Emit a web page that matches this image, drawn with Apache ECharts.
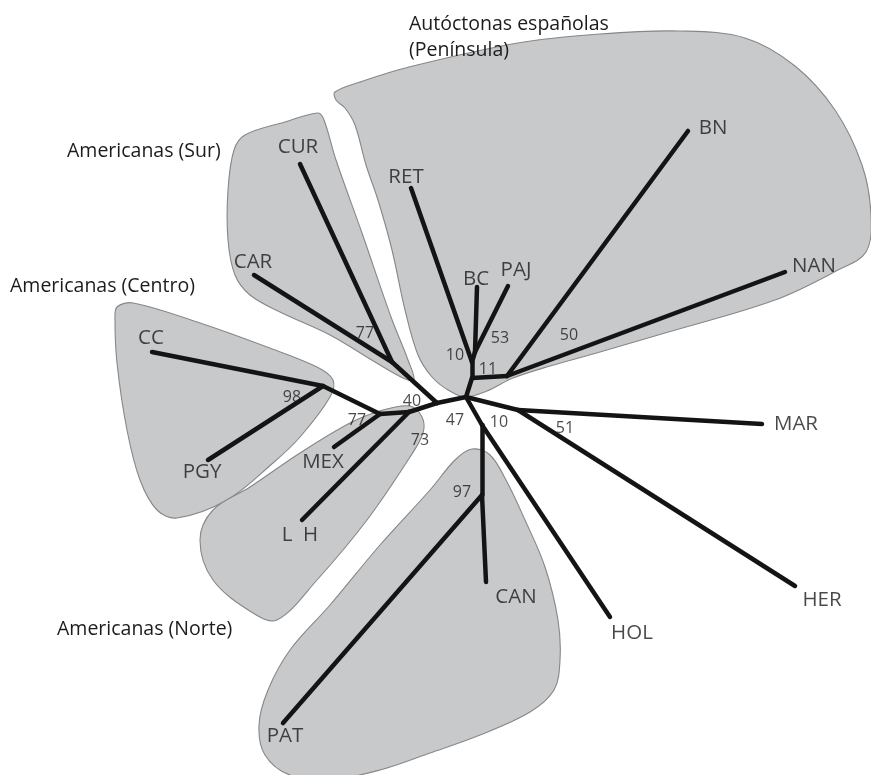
<!DOCTYPE html>
<html>
<head>
<meta charset="utf-8">
<title>Árbol de razas</title>
<script src="https://cdn.jsdelivr.net/npm/echarts@6/dist/echarts.min.js"></script>
<style>
  html, body { margin: 0; padding: 0; background: #ffffff; }
  #chart { width: 871px; height: 775px; }
</style>
</head>
<body>
<div id="chart"></div>
<script>
// Terminal taxa and their positions in the unrooted tree layout
const leafNames = ['CUR', 'CAR', 'CC', 'PGY', 'MEX', 'L  H', 'PAT', 'CAN', 'HOL', 'HER', 'MAR', 'NAN', 'BN', 'PAJ', 'BC', 'RET'];
const leafX = [300, 254, 152, 208, 334, 302, 283, 486, 610, 795, 762, 785, 688, 508, 477, 411];
const leafY = [164, 275, 352, 460, 447, 520, 723, 582, 617, 586, 424, 272, 131, 286, 287, 188];

// Internal nodes of the tree
const innerNames = ['H0', 'N40', 'Jsur', 'N73', 'N77', 'N98', 'N11', 'N50', 'N10', 'N53', 'Nr', 'N10b', 'N97'];
const innerX = [466, 437, 392, 409, 380, 323, 472, 507, 472, 475, 518, 482, 482];
const innerY = [397, 403, 362, 412, 414, 386, 378, 376, 362, 352, 410, 425, 495];

// Branches (parent, child)
const branches = [
  ['H0', 'N40'], ['N40', 'Jsur'], ['Jsur', 'CUR'], ['Jsur', 'CAR'],
  ['N40', 'N73'], ['N73', 'L  H'], ['N73', 'N77'], ['N77', 'MEX'], ['N77', 'N98'],
  ['N98', 'CC'], ['N98', 'PGY'],
  ['H0', 'N11'], ['N11', 'N50'], ['N50', 'BN'], ['N50', 'NAN'],
  ['N11', 'N10'], ['N10', 'RET'], ['N10', 'N53'], ['N53', 'BC'], ['N53', 'PAJ'],
  ['H0', 'Nr'], ['Nr', 'MAR'], ['Nr', 'HER'],
  ['H0', 'N10b'], ['N10b', 'HOL'], ['N10b', 'N97'], ['N97', 'CAN'], ['N97', 'PAT']
];

// Bootstrap support at internal nodes
const bootstrapNodes = ['Jsur', 'N40', 'N98', 'N77', 'N73', 'H0', 'N10b', 'Nr', 'N97', 'N10', 'N53', 'N11', 'N50'];
const bootstrapValues = [77, 40, 98, 77, 73, 47, 10, 51, 97, 10, 53, 11, 50];

// Breed groups and the outline of each shaded region
const groupNames = ['Autóctonas españolas\n(Península)', 'Americanas (Sur)', 'Americanas (Centro)', 'Americanas (Norte)'];
const groupOutlines = [
  [[335,92],[360,82],[409,67],[518,43],[600,34],[680,31],[745,38],[795,66],[835,110],[862,165],[871,215],[866,252],[838,270],[775,300],[665,333],[600,352],[550,366],[513,378],[487,391],[465,397],[448,390],[432,377],[418,355],[405,310],[392,250],[378,200],[366,165],[355,125],[345,108],[336,100]],
  [[245,135],[285,122],[318,113],[324,120],[336,160],[362,233],[391,317],[408,360],[414,380],[403,378],[375,362],[330,335],[280,312],[250,295],[235,275],[228,240],[228,190],[234,150]],
  [[117,307],[133,303],[200,323],[267,347],[317,367],[333,380],[330,397],[300,437],[273,463],[227,500],[177,518],[157,510],[140,480],[127,430],[117,363],[115,320]],
  [[383,410],[410,406],[422,417],[423,433],[410,457],[367,520],[317,580],[277,620],[253,613],[213,580],[200,540],[213,510],[250,487],[300,453],[350,423]],
  [[472,449],[490,455],[506,480],[525,520],[545,567],[558,620],[560,660],[554,690],[530,712],[480,735],[430,753],[380,770],[334,779],[290,775],[265,755],[259,725],[268,690],[290,650],[330,605],[380,545],[430,490],[455,460]]
];

// Text placement (pixel offsets from the node the text belongs to)
const leafLabelOffset = {
  'CUR': [-2, -17], 'CAR': [-1, -13], 'CC': [-1, -14], 'PGY': [-6, 12], 'MEX': [-11, 15],
  'L  H': [-2, 15], 'PAT': [2, 13], 'CAN': [30, 15], 'HOL': [22, 16], 'HER': [27, 14],
  'MAR': [34, 0], 'NAN': [29, -6], 'BN': [25, -3], 'PAJ': [8, -16], 'BC': [-1, -8], 'RET': [-5, -11]
};
const bootstrapOffset = {
  'Jsur': [-27, -29], 'N40': [-25, -2], 'N98': [-31, 11], 'N77': [-23, 6], 'N73': [11, 28],
  'H0': [-11, 23], 'N10b': [17, -3], 'Nr': [47, 18], 'N97': [-20, -3], 'N10': [-17, -7],
  'N53': [25, -14], 'N11': [16, -9], 'N50': [62, -41]
};

const FONT = '"Open Sans", "DejaVu Sans", sans-serif';
const TEXT = '#1c1c1c';

const pos = {};
leafNames.forEach((n, i) => { pos[n] = [leafX[i], leafY[i]]; });
innerNames.forEach((n, i) => { pos[n] = [innerX[i], innerY[i]]; });

const chart = echarts.init(document.getElementById('chart'), null, { renderer: 'canvas' });

const option = {
  backgroundColor: '#ffffff',
  animation: false,
  grid: { left: 0, right: 0, top: 0, bottom: 0, containLabel: false },
  xAxis: { type: 'value', min: 0, max: 871, show: false },
  yAxis: { type: 'value', min: 0, max: 775, inverse: true, show: false },
  series: [
    {
      // shaded breed-group regions
      type: 'custom',
      coordinateSystem: 'cartesian2d',
      silent: true,
      z: 1,
      data: groupOutlines.map((o, i) => [o[0][0], o[0][1], i]),
      renderItem: function (params, api) {
        const idx = api.value(2);
        const pts = groupOutlines[idx].map(p => api.coord(p));
        return {
          type: 'polygon',
          shape: { points: pts, smooth: 0.35 },
          style: { fill: '#c8c9cb', stroke: '#878787', lineWidth: 1.1 }
        };
      }
    },
    {
      // tree branches
      type: 'lines',
      coordinateSystem: 'cartesian2d',
      silent: true,
      z: 3,
      polyline: false,
      lineStyle: { color: '#141414', width: 4.5, opacity: 1, cap: 'round' },
      data: branches.map(([a, b]) => ({ coords: [pos[a], pos[b]] }))
    },
    {
      // taxon names
      type: 'scatter',
      silent: true,
      z: 4,
      symbolSize: 1,
      itemStyle: { color: 'rgba(0,0,0,0)' },
      data: leafNames.map((n, i) => ({
        value: [leafX[i], leafY[i]],
        name: n,
        label: { offset: leafLabelOffset[n] }
      })),
      label: {
        show: true, position: 'inside', formatter: p => p.name,
        color: TEXT, fontFamily: FONT, fontSize: 20.5
      }
    },
    {
      // bootstrap support values
      type: 'scatter',
      silent: true,
      z: 4,
      symbolSize: 1,
      itemStyle: { color: 'rgba(0,0,0,0)' },
      data: bootstrapNodes.map((n, i) => ({
        value: pos[n],
        name: String(bootstrapValues[i]),
        label: { offset: bootstrapOffset[n] }
      })),
      label: {
        show: true, position: 'inside', formatter: p => p.name,
        color: TEXT, fontFamily: FONT, fontSize: 16
      }
    }
  ],
  graphic: [
    { type: 'text', left: 409, top: 11, z: 10, style: { text: groupNames[0], fill: TEXT, font: '19.5px ' + FONT, lineHeight: 26 } },
    { type: 'text', left: 67, top: 141, z: 10, style: { text: groupNames[1], fill: TEXT, font: '19.5px ' + FONT } },
    { type: 'text', left: 10, top: 276, z: 10, style: { text: groupNames[2], fill: TEXT, font: '19.5px ' + FONT } },
    { type: 'text', left: 57, top: 619, z: 10, style: { text: groupNames[3], fill: TEXT, font: '19.5px ' + FONT } }
  ]
};

chart.setOption(option);
</script>
</body>
</html>
